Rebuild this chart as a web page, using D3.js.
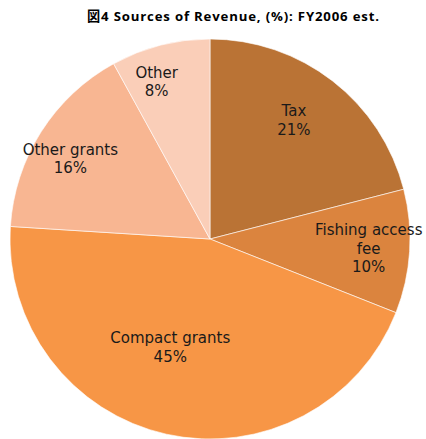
<!DOCTYPE html>
<html>
<head>
<meta charset="utf-8">
<script src="https://cdn.jsdelivr.net/npm/d3@7/dist/d3.min.js"></script>
<style>
  html, body { margin: 0; padding: 0; background: #fff; }
  svg { display: block; }
</style>
</head>
<body>
<script>
// Revenue sources, FY2006 estimate (percent of total)
const categories = ["Tax", "Fishing access fee", "Compact grants", "Other grants", "Other"];
const values = [21, 10, 45, 16, 8];
const labelLines = [["Tax"], ["Fishing access", "fee"], ["Compact grants"], ["Other grants"], ["Other"]];
const colors = ["#BA7335", "#DB843E", "#F79646", "#F8B692", "#FACEB8"];
const titleText = "図4  Sources of Revenue, (%): FY2006 est.";

const width = 426, height = 439;
const cx = 210, cy = 239, radius = 200;

const svg = d3.select("body").append("svg")
  .attr("width", width)
  .attr("height", height);

svg.append("text")
  .attr("x", 233)
  .attr("y", 20.5)
  .attr("text-anchor", "middle")
  .attr("font-family", "'Open Sans', 'Noto Sans CJK JP', sans-serif")
  .attr("font-weight", "bold")
  .attr("font-size", 13.2)
  .attr("textLength", 292)
  .attr("lengthAdjust", "spacing")
  .attr("fill", "#000")
  .text(titleText);

const pie = d3.pie().sort(null).value(d => d);
const arcs = pie(values);
const arc = d3.arc().innerRadius(0).outerRadius(radius);

const g = svg.append("g").attr("transform", `translate(${cx},${cy})`);

g.selectAll("path.slice")
  .data(arcs)
  .join("path")
  .attr("class", "slice")
  .attr("d", arc)
  .attr("fill", (d, i) => colors[i])
  .attr("stroke", "#fff")
  .attr("stroke-width", 0.6);

// Label placement: centroid of a label ring, with per-slice nudges in px
const labelArc = d3.arc().innerRadius(radius * 0.75).outerRadius(radius * 0.75);
const nudges = [[-8, 0], [9, 0], [-7, -38], [-13, 0], [-16, -12]];
const lineH = 18.5;

g.selectAll("text.lbl")
  .data(arcs)
  .join("text")
  .attr("class", "lbl")
  .attr("text-anchor", "middle")
  .attr("font-family", "'DejaVu Sans', Verdana, sans-serif")
  .attr("font-size", 15)
  .attr("fill", "#1a1a1a")
  .each(function (d, i) {
    const [x, y] = labelArc.centroid(d);
    const lines = labelLines[i].concat([values[i] + "%"]);
    const px = x + nudges[i][0];
    const py = y + nudges[i][1] - (lines.length - 1) * lineH / 2;
    const t = d3.select(this);
    lines.forEach((s, k) => {
      t.append("tspan")
        .attr("x", px)
        .attr("y", py + k * lineH)
        .attr("dy", "0.35em")
        .text(s);
    });
  });
</script>
</body>
</html>
